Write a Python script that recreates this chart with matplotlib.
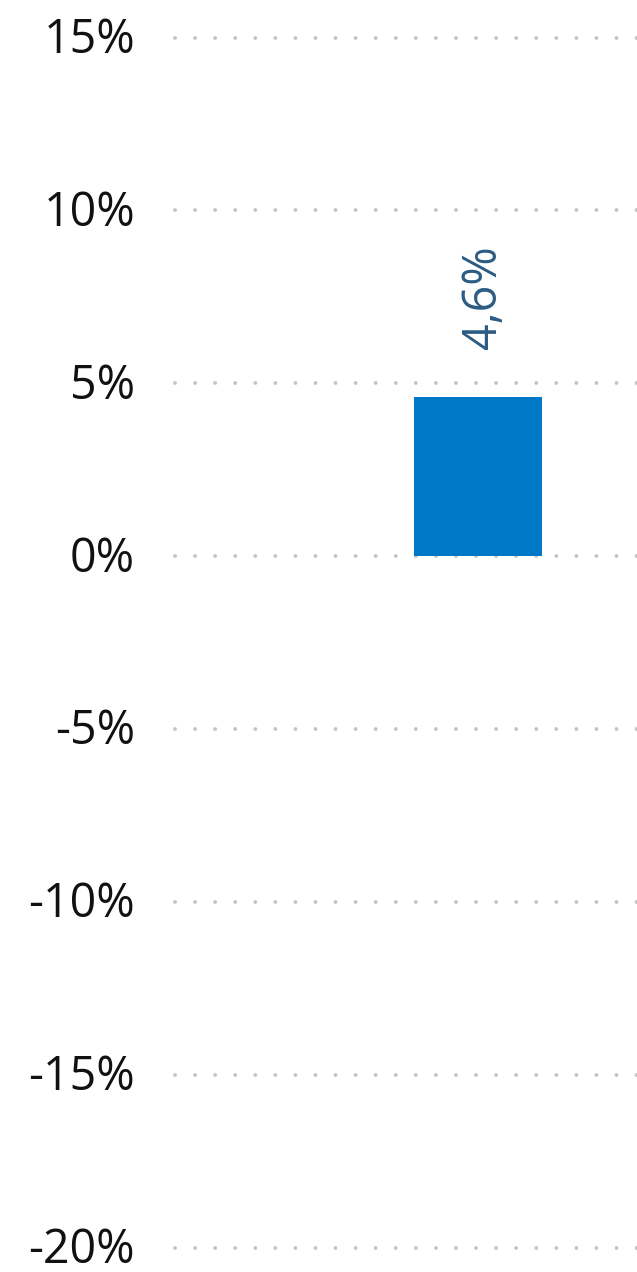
import matplotlib
matplotlib.use("Agg")
import matplotlib.pyplot as plt
import matplotlib.transforms as mtransforms

# data
categories = ["A"]
values = [4.6]
value_labels = ["4,6%"]
y_ticks = [-20, -15, -10, -5, 0, 5, 10, 15]
y_tick_labels = ["-20%", "-15%", "-10%", "-5%", "0%", "5%", "10%", "15%"]

plt.rcParams["font.family"] = ["Open Sans", "DejaVu Sans"]

W, H = 637, 1272
fig = plt.figure(figsize=(W / 100, H / 100), dpi=100)
ax = fig.add_axes([175 / W, (H - 1247.5) / H, (W - 175) / W, 1210 / H])

xpos = list(range(len(categories)))
ax.bar(xpos, values, width=0.6, color="#0078C8", zorder=2)

ax.set_ylim(-20, 15)
ax.set_xlim(-1.42, 0.745)

# dotted gridlines
for t in y_ticks:
    ax.axhline(t, color="#C4C4C4", linewidth=2.8, linestyle=(0, (0.01, 5.15)),
               dash_capstyle="round", clip_on=False, zorder=1)

# y tick labels, caps centred on the gridline
ax.set_yticks([])
ax.set_xticks([])
fs = 33.5
lab_trans = ax.get_yaxis_transform() + mtransforms.ScaledTranslation(
    -40 / 100, -15.5 / 100, fig.dpi_scale_trans)
for t, lab in zip(y_ticks, y_tick_labels):
    ax.text(0, t, lab, transform=lab_trans, ha="right", va="baseline",
            fontsize=fs, color="#111111", clip_on=False)

for s in ax.spines.values():
    s.set_visible(False)

# value labels, rotated
for x, v, lab in zip(xpos, values, value_labels):
    ax.annotate(lab, (x, v), xytext=(4, 34.5), textcoords="offset points",
                rotation=90, ha="center", va="bottom", fontsize=fs,
                color="#2B5B84")

fig.savefig("out.png", dpi=100)
